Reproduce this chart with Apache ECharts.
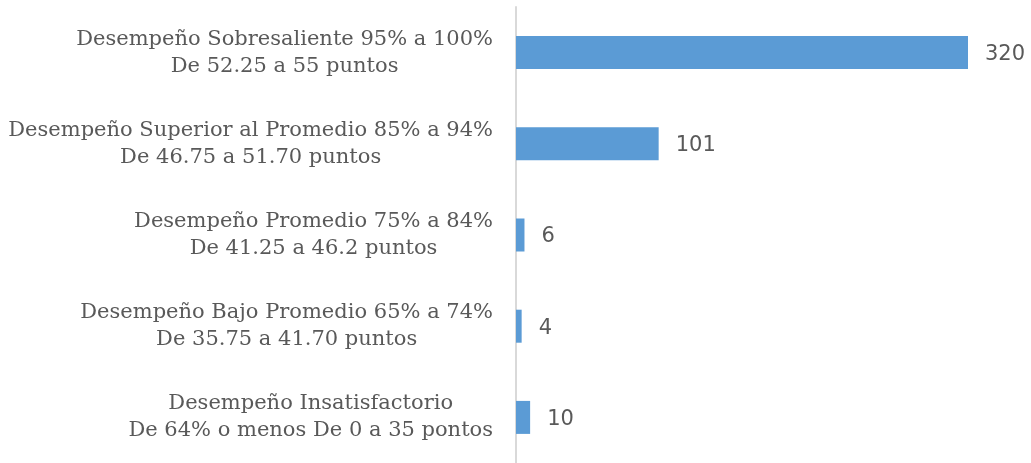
<!DOCTYPE html>
<html>
<head>
<meta charset="utf-8">
<script src="https://cdn.jsdelivr.net/npm/echarts@6/dist/echarts.min.js"></script>
<style>
  html, body { margin: 0; padding: 0; background: #fff; }
  #chart { width: 1031px; height: 463px; }
</style>
</head>
<body>
<div id="chart"></div>
<script>
// categories, top to bottom
const categories = [
  "Desempeño Sobresaliente 95% a 100%\nDe 52.25 a 55 puntos",
  "Desempeño Superior al Promedio 85% a 94%\nDe 46.75 a 51.70 puntos",
  "Desempeño Promedio 75% a 84%\nDe 41.25 a 46.2 puntos",
  "Desempeño Bajo Promedio 65% a 74%\nDe 35.75 a 41.70 puntos",
  "Desempeño Insatisfactorio\nDe 64% o menos De 0 a 35 pontos"
];
const values = [320, 101, 6, 4, 10];

const chart = echarts.init(document.getElementById("chart"));
chart.setOption({
  animation: false,
  grid: { left: 516, right: 63, top: 7, height: 460 },
  xAxis: {
    type: "value",
    min: 0,
    max: 320,
    show: false
  },
  yAxis: {
    type: "category",
    inverse: true,
    data: categories,
    axisLine: { lineStyle: { color: "#d9d9d9", width: 2 } },
    axisTick: { show: false },
    axisLabel: {
      margin: 23,
      // keep lines centred inside the label block
      formatter: (v) => v.split("\n").map((l) => "{c|" + l + "}").join("\n"),
      rich: {
        c: {
          align: "center",
          fontFamily: "DejaVu Serif",
          fontSize: 21,
          lineHeight: 27,
          color: "#595959"
        }
      }
    }
  },
  series: [
    {
      type: "bar",
      data: values,
      barWidth: 33,
      itemStyle: { color: "#5b9bd5" },
      label: {
        show: true,
        position: "right",
        distance: 17,
        offset: [0, 2],
        fontFamily: "DejaVu Sans",
        fontSize: 21,
        color: "#595959"
      }
    }
  ]
});
</script>
</body>
</html>
